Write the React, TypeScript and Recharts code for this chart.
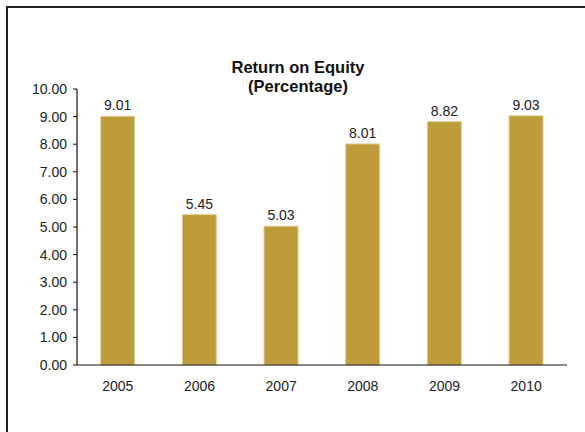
import { BarChart, Bar, XAxis, YAxis, LabelList } from "recharts";

const years = ["2005", "2006", "2007", "2008", "2009", "2010"];
const roe = [9.01, 5.45, 5.03, 8.01, 8.82, 9.03];
const yTicks = [0, 1, 2, 3, 4, 5, 6, 7, 8, 9, 10];
const edgeTicks = [0, 1, 2, 3, 4, 5, 6];

const data = years.map((year, i) => ({ year, roe: roe[i] }));

const font = "'Liberation Sans', Arial, sans-serif";

export default function App() {
  return (
    <div
      style={{
        position: "absolute",
        left: 0,
        top: 0,
        width: 585,
        height: 432,
        overflow: "hidden",
        background: "#fff",
        fontFamily: font,
      }}
    >
      {/* frame, cut off at right and bottom like the original */}
      <div
        style={{
          position: "absolute",
          left: 6,
          top: 6,
          width: 700,
          height: 600,
          border: "2.5px solid #222",
        }}
      />
      <div
        style={{
          position: "absolute",
          left: 148,
          width: 300,
          top: 58,
          textAlign: "center",
          fontWeight: "bold",
          fontSize: 16.5,
          lineHeight: "19px",
          color: "#111",
        }}
      >
        Return on Equity
        <br />
        (Percentage)
      </div>
      <BarChart
        width={585}
        height={432}
        data={data}
        margin={{ top: 89, right: 18, bottom: 37, left: 17 }}
        barCategoryGap="29%"
        style={{ position: "absolute", left: 0, top: 0 }}
      >
        {/* tick marks between the categories */}
        <XAxis
          xAxisId="edges"
          type="number"
          domain={[0, 6]}
          ticks={edgeTicks}
          axisLine={false}
          tickLine={{ stroke: "#999" }}
          tickSize={4}
          tick={false}
          height={0}
        />
        <XAxis
          dataKey="year"
          height={30}
          tickLine={false}
          axisLine={{ stroke: "#111", strokeWidth: 1.2 }}
          tickMargin={10}
          tick={{ fill: "#222", fontSize: 14, fontFamily: font }}
        />
        <YAxis
          domain={[0, 10]}
          ticks={yTicks}
          width={60}
          tickSize={4}
          tickMargin={6}
          tickFormatter={(v: number) => v.toFixed(2)}
          axisLine={{ stroke: "#111", strokeWidth: 1.2 }}
          tickLine={{ stroke: "#111" }}
          tick={{ fill: "#222", fontSize: 14, fontFamily: font }}
          interval={0}
        />
        <Bar
          dataKey="roe"
          fill="#BF9C3A"
          stroke="#E2D09A"
          strokeWidth={1}
          isAnimationActive={false}
        >
          <LabelList
            dataKey="roe"
            position="top"
            offset={6}
            formatter={(v: number) => v.toFixed(2)}
            style={{ fill: "#222", fontSize: 14, fontFamily: font }}
          />
        </Bar>
      </BarChart>
    </div>
  );
}
